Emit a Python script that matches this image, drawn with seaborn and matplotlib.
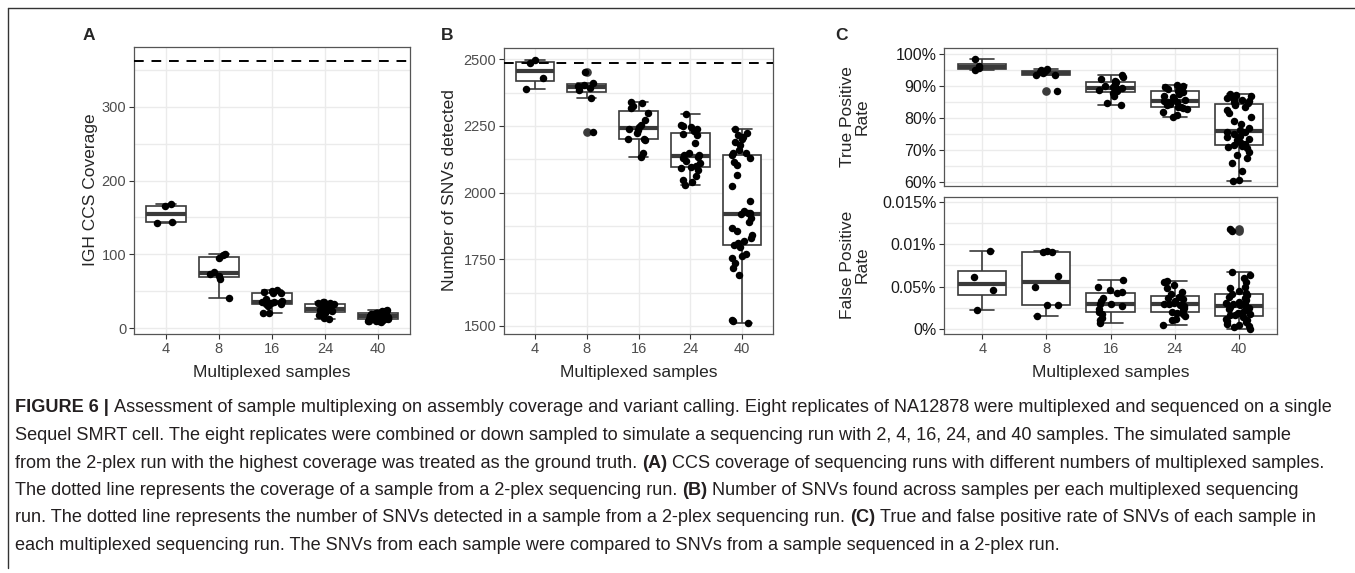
import numpy as np
import pandas as pd
import matplotlib
matplotlib.use("Agg")
import matplotlib.pyplot as plt
import seaborn as sns
from matplotlib.ticker import FixedLocator
from matplotlib.lines import Line2D

# ---------------- data ----------------
plex = ["4", "8", "16", "24", "40"]

# Panel A: IGH CCS coverage
cov_4 = [143, 144, 165, 168]
cov_8 = [41, 66, 70, 73, 76, 95, 99, 101]
cov_16 = [20, 21, 30, 33, 33, 34, 35, 36, 36, 37, 40, 47, 48, 49, 50, 51]
cov_24 = [13, 14, 18, 20, 21, 22, 22, 23, 24, 24, 25, 25, 26, 26, 27, 28,
          30, 33, 33, 33, 34, 34, 35, 35]
cov_40 = [8, 9, 9, 10, 10, 11, 11, 12, 12, 13, 13, 13, 14, 14, 14, 15, 15, 15,
          16, 16, 16, 16, 17, 17, 17, 18, 18, 19, 19, 20, 20, 20, 21, 21, 21,
          22, 22, 23, 23, 24]
cov_ref = 362

# Panel B: number of SNVs detected
snv_4 = [2388, 2428, 2487, 2497]
snv_8 = [2226, 2354, 2384, 2392, 2400, 2404, 2412, 2451]
snv_16 = [2135, 2147, 2196, 2199, 2201, 2222, 2236, 2240, 2245, 2255, 2272,
          2300, 2318, 2325, 2335, 2341]
snv_24 = [2030, 2040, 2048, 2062, 2085, 2092, 2095, 2100, 2112, 2120, 2130,
          2135, 2139, 2142, 2150, 2185, 2214, 2220, 2230, 2240, 2245, 2250,
          2252, 2293]
snv_40 = [1513, 1518, 1522, 1690, 1718, 1735, 1755, 1762, 1770, 1795, 1805,
          1812, 1820, 1830, 1840, 1855, 1868, 1890, 1905, 1918, 1922, 1925,
          1930, 1968, 2025, 2065, 2105, 2115, 2130, 2140, 2148, 2150, 2160,
          2180, 2190, 2200, 2208, 2215, 2225, 2238]
snv_ref = 2487

# Panel C (top): true positive rate, %
tpr_4 = [95.1, 95.6, 96.5, 98.6]
tpr_8 = [88.5, 93.5, 93.6, 94.1, 94.4, 94.7, 95.1, 95.5]
tpr_16 = [84.2, 84.6, 87.0, 87.8, 88.4, 88.8, 89.2, 89.5, 89.7, 90.2, 90.8,
          91.2, 91.6, 92.2, 92.8, 93.4]
tpr_24 = [80.2, 81.0, 82.0, 82.8, 83.2, 83.4, 83.6, 84.0, 84.5, 84.9, 85.2,
          85.4, 85.6, 86.0, 86.5, 87.0, 87.6, 88.3, 88.6, 89.0, 89.3, 89.7,
          90.1, 90.5]
tpr_40 = [60.4, 60.6, 63.5, 66.0, 67.5, 68.5, 69.5, 70.5, 71.0, 71.3, 71.6,
          72.0, 72.5, 73.0, 73.5, 74.0, 74.5, 75.0, 75.5, 75.8, 76.2, 77.0,
          78.0, 79.0, 80.5, 81.5, 82.5, 83.5, 84.0, 84.4, 84.7, 85.0, 85.3,
          85.6, 86.0, 86.3, 86.6, 87.0, 87.3, 87.6]

# Panel C (bottom): false positive rate, %
fpr_4 = [0.00224, 0.00459, 0.00608, 0.00918]
fpr_8 = [0.0015, 0.0028, 0.0028, 0.0049, 0.0062, 0.0091, 0.0091, 0.0092]
fpr_16 = [0.0007, 0.0011, 0.0013, 0.0018, 0.0020, 0.0024, 0.0027, 0.0029,
          0.0030, 0.0033, 0.0037, 0.0042, 0.0044, 0.0046, 0.0049, 0.0058]
fpr_24 = [0.0005, 0.0010, 0.0012, 0.0015, 0.0018, 0.0019, 0.0020, 0.0022,
          0.0025, 0.0027, 0.0028, 0.0029, 0.0030, 0.0031, 0.0033, 0.0035,
          0.0037, 0.0038, 0.0041, 0.0044, 0.0048, 0.0052, 0.0055, 0.0057]
fpr_40 = [0.0000, 0.0002, 0.0004, 0.0005, 0.0006, 0.0008, 0.0009, 0.0010,
          0.0012, 0.0014, 0.0016, 0.0017, 0.0018, 0.0019, 0.0020, 0.0022,
          0.0023, 0.0024, 0.0025, 0.0026, 0.0028, 0.0029, 0.0030, 0.0031,
          0.0032, 0.0034, 0.0036, 0.0038, 0.0040, 0.0041, 0.0043, 0.0045,
          0.0048, 0.0050, 0.0055, 0.0060, 0.0064, 0.0067, 0.0116, 0.0118]

cov_ticks = [0, 100, 200, 300]
snv_ticks = [1500, 1750, 2000, 2250, 2500]
tpr_ticks = [60, 70, 80, 90, 100]
tpr_labels = ["60%", "70%", "80%", "90%", "100%"]
fpr_ticks = [0, 0.005, 0.01, 0.015]
fpr_labels = ["0%", "0.05%", "0.01%", "0.015%"]

caption_lines = [
    [("FIGURE 6 |", True), ("Assessment of sample multiplexing on assembly coverage and variant calling. Eight replicates of NA12878 were multiplexed and sequenced on a single", False)],
    [("Sequel SMRT cell. The eight replicates were combined or down sampled to simulate a sequencing run with 2, 4, 16, 24, and 40 samples. The simulated sample", False)],
    [("from the 2-plex run with the highest coverage was treated as the ground truth.", False), ("(A)", True), ("CCS coverage of sequencing runs with different numbers of multiplexed samples.", False)],
    [("The dotted line represents the coverage of a sample from a 2-plex sequencing run.", False), ("(B)", True), ("Number of SNVs found across samples per each multiplexed sequencing", False)],
    [("run. The dotted line represents the number of SNVs detected in a sample from a 2-plex sequencing run.", False), ("(C)", True), ("True and false positive rate of SNVs of each sample in", False)],
    [("each multiplexed sequencing run. The SNVs from each sample were compared to SNVs from a sample sequenced in a 2-plex run.", False)],
]


def long_df(groups):
    rows = []
    for cat, vals in zip(plex, groups):
        for v in vals:
            rows.append((cat, v))
    return pd.DataFrame(rows, columns=["plex", "value"])


df_cov = long_df([cov_4, cov_8, cov_16, cov_24, cov_40])
df_snv = long_df([snv_4, snv_8, snv_16, snv_24, snv_40])
df_tpr = long_df([tpr_4, tpr_8, tpr_16, tpr_24, tpr_40])
df_fpr = long_df([fpr_4, fpr_8, fpr_16, fpr_24, fpr_40])

# ---------------- style ----------------
sns.set_theme(style="white")
plt.rcParams["font.family"] = ["Liberation Sans", "DejaVu Sans"]
np.random.seed(7)

W, H = 1355, 573
fig = plt.figure(figsize=(W / 100, H / 100), dpi=100)
fig.patch.set_facecolor("white")


def add_ax(l, t, r, b):
    return fig.add_axes([l / W, 1 - b / H, (r - l) / W, (b - t) / H])


GRID = "#EBEBEB"
EDGE = "#3A3A3A"


def panel(ax, df, ylim, ticks, labels, minor, ref=None, xlabels=True,
          ylab_color="#4D4D4D", ylab_size=10.5):
    sns.boxplot(data=df, x="plex", y="value", order=plex, color="white",
                linecolor=EDGE, linewidth=1.2, width=0.75, ax=ax,
                fliersize=5.2,
                medianprops=dict(linewidth=3.0, color=EDGE),
                flierprops=dict(marker="o", markerfacecolor=EDGE,
                                markeredgecolor=EDGE))
    sns.stripplot(data=df, x="plex", y="value", order=plex, color="black",
                  size=5.4, jitter=0.2, ax=ax, linewidth=0)
    if ref is not None:
        ax.axhline(ref, color="black", lw=1.4, ls=(0, (5, 4)), zorder=5)
    ax.set_xlim(-0.6, 4.6)
    ax.set_ylim(*ylim)
    ax.yaxis.set_major_locator(FixedLocator(ticks))
    ax.set_yticklabels(labels)
    ax.yaxis.set_minor_locator(FixedLocator(minor))
    ax.set_axisbelow(True)
    ax.grid(which="both", axis="y", color=GRID, lw=1.0)
    ax.grid(which="major", axis="x", color=GRID, lw=1.0)
    ax.tick_params(which="minor", length=0)
    ax.tick_params(axis="both", which="major", length=3.5, width=0.8,
                   color="#333333", labelsize=10.5, labelcolor="#4D4D4D",
                   pad=2, left=True, bottom=True)
    ax.tick_params(axis="y", labelcolor=ylab_color, labelsize=ylab_size)
    if not xlabels:
        ax.tick_params(axis="x", bottom=False, labelbottom=False)
    ax.set_xlabel("")
    ax.set_ylabel("")
    for s in ax.spines.values():
        s.set_color("#555555")
        s.set_linewidth(0.9)
        s.set_visible(True)


axA = add_ax(134, 47, 410, 334)
panel(axA, df_cov, (-8, 381), cov_ticks, [str(t) for t in cov_ticks],
      [50, 150, 250, 350], ref=cov_ref)

axB = add_ax(504, 47.7, 773, 334)
panel(axB, df_snv, (1470, 2543), snv_ticks, [str(t) for t in snv_ticks],
      [1625, 1875, 2125, 2375], ref=snv_ref)

axC1 = add_ax(944, 48, 1277, 186)
panel(axC1, df_tpr, (58.7, 102.0), tpr_ticks, tpr_labels,
      [65, 75, 85, 95], xlabels=False, ylab_color="#1A1A1A", ylab_size=11.5)

axC2 = add_ax(944, 196.7, 1277, 334.3)
panel(axC2, df_fpr, (-0.00063, 0.0156), fpr_ticks, fpr_labels,
      [0.0025, 0.0075, 0.0125], ylab_color="#1A1A1A", ylab_size=11.5)


def ftext(x, y, s, **kw):
    return fig.text(x / W, 1 - y / H, s, **kw)


# panel letters
for x, l in [(89, "A"), (447, "B"), (842, "C")]:
    ftext(x, 35, l, fontsize=12.5, fontweight="bold", ha="center",
          va="center")

# axis titles
ftext(90, 190, "IGH CCS Coverage", rotation=90, fontsize=12.5,
      ha="center", va="center")
ftext(450, 190, "Number of SNVs detected", rotation=90, fontsize=12.5,
      ha="center", va="center")
ftext(855, 117, "True Positive\nRate", rotation=90, fontsize=12.5,
      ha="center", va="center", linespacing=1.0)
ftext(855, 265, "False Positive\nRate", rotation=90, fontsize=12.5,
      ha="center", va="center", linespacing=1.0)
for cx in [272, 638.5, 1110.5]:
    ftext(cx, 373, "Multiplexed samples", fontsize=12.5, ha="center",
          va="center")

# figure frame
fig.add_artist(Line2D([8 / W, 1], [1 - 8 / H] * 2, transform=fig.transFigure,
                      color="#333333", lw=1.0))
fig.add_artist(Line2D([8 / W] * 2, [1 - 8 / H, 1 - 568 / H],
                      transform=fig.transFigure, color="#333333", lw=1.0))

# caption
cap_family = ["Liberation Sans"]
renderer = fig.canvas.get_renderer()


def seg_width(txt, bold, size):
    t = fig.text(0, 0, txt, fontsize=size, family=cap_family,
                 fontweight="bold" if bold else "normal")
    w = t.get_window_extent(renderer=renderer).width
    t.remove()
    return w


def line_width(segs, size):
    sp = seg_width("x x", False, size) - seg_width("xx", False, size)
    return sum(seg_width(s, b, size) for s, b in segs) + sp * (len(segs) - 1)


target = 1322.0
size = 12.0
w0 = line_width(caption_lines[0], size)
size = size * target / w0

sp = seg_width("x x", False, size) - seg_width("xx", False, size)
y0, dy = 408, 27.5
for i, segs in enumerate(caption_lines):
    x = 15.0
    for s, b in segs:
        t = ftext(x, y0 + i * dy, s, fontsize=size, family=cap_family,
                  fontweight="bold" if b else "normal", ha="left",
                  va="center", color="#231F20")
        x += t.get_window_extent(renderer=renderer).width + sp

fig.savefig("out.png", dpi=100)
